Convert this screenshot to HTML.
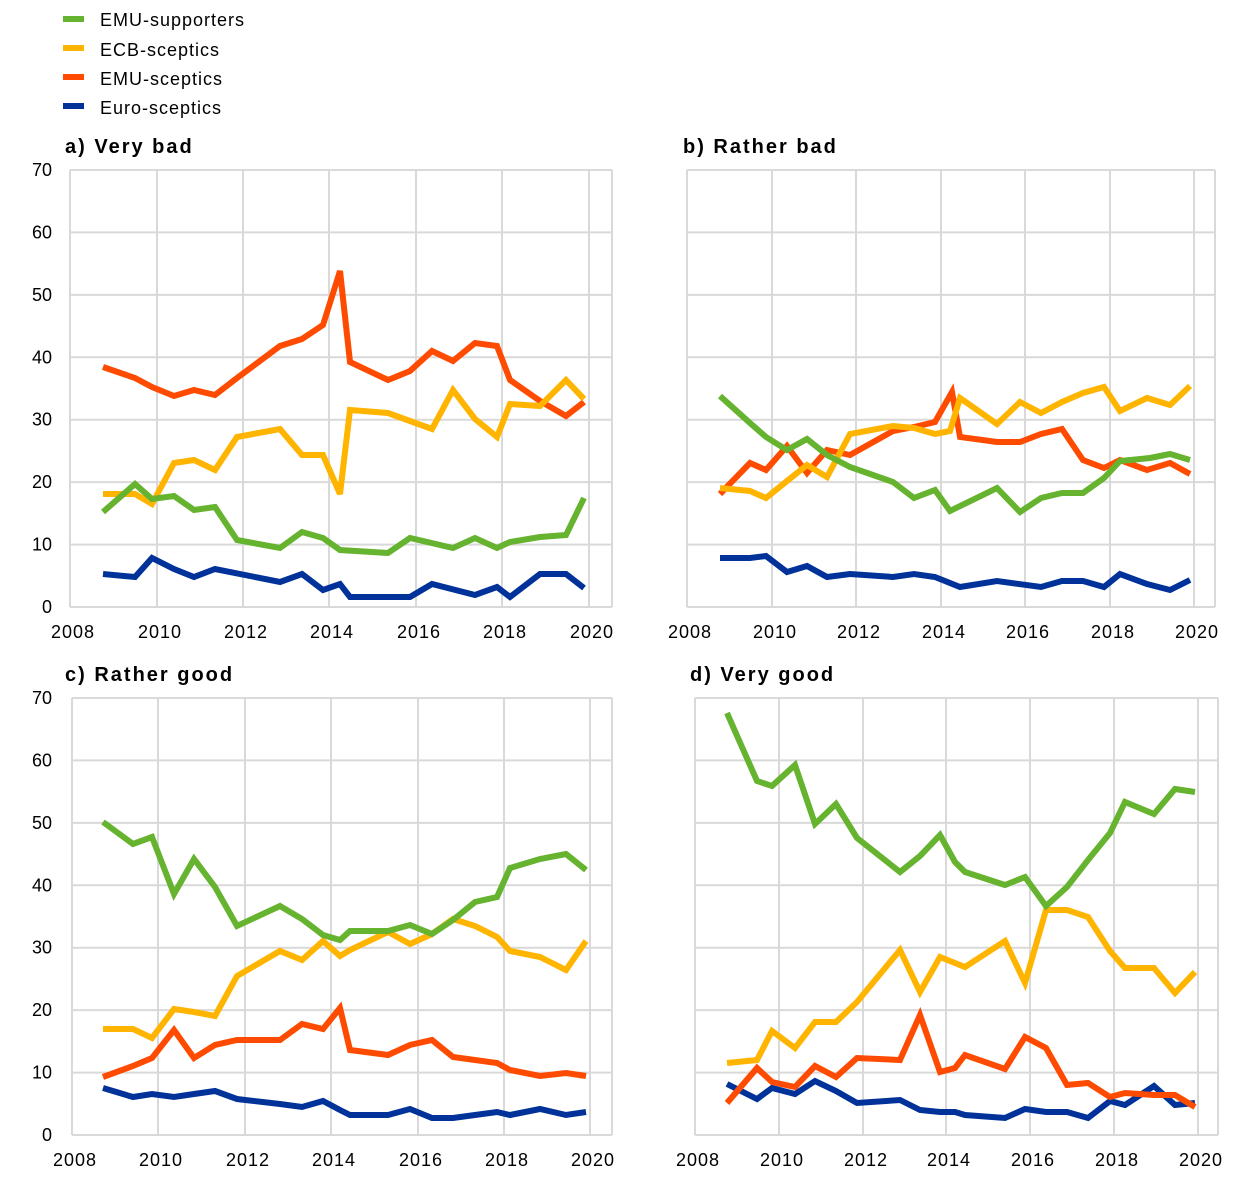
<!DOCTYPE html>
<html><head><meta charset="utf-8"><style>
body{margin:0;background:#fff;width:1240px;height:1176px;overflow:hidden}
text{font-family:"Liberation Sans",Arial,sans-serif;fill:#000}
</style></head><body>
<svg id="s" width="1240" height="1176" xmlns="http://www.w3.org/2000/svg">
<g font-size="18" letter-spacing="1">
<rect x="63" y="16" width="21" height="6" fill="#65b32e"/><text x="100" y="26">EMU-supporters</text>
<rect x="63" y="45" width="21" height="6" fill="#ffb400"/><text x="100" y="56">ECB-sceptics</text>
<rect x="63" y="74" width="21" height="6" fill="#ff4b00"/><text x="100" y="85">EMU-sceptics</text>
<rect x="63" y="103" width="21" height="6" fill="#003299"/><text x="100" y="114">Euro-sceptics</text>
</g>
<g font-size="20" font-weight="bold" letter-spacing="2">
<text x="65" y="153">a) Very bad</text>
<text x="683" y="153">b) Rather bad</text>
<text x="65" y="681">c) Rather good</text>
<text x="690" y="681">d) Very good</text>
</g>
</svg>
<script>
const S=document.getElementById('s'),NS='http://www.w3.org/2000/svg';
function el(t,a,txt){const e=document.createElementNS(NS,t);for(const k in a)e.setAttribute(k,a[k]);if(txt!==undefined)e.textContent=txt;S.appendChild(e);return e;}
function panel(L,R,top,bot,xs,ylab){
 for(let i=0;i<=7;i++){const y=top+(bot-top)*i/7;el('line',{x1:L,x2:R,y1:y,y2:y,stroke:'#d9d9d9','stroke-width':2});
  if(ylab)el('text',{x:52,y:bot-(bot-top)*i/7+6,'text-anchor':'end','font-size':18},String(i*10));}
 xs.forEach((x,i)=>{el('line',{x1:x,x2:x,y1:top,y2:bot,stroke:'#d9d9d9','stroke-width':2});
  el('text',{x:x+3,y:bot+31,'text-anchor':'middle','font-size':18,'letter-spacing':'1'},String(2008+2*i));});
 el('line',{x1:R,x2:R,y1:top,y2:bot,stroke:'#d9d9d9','stroke-width':2});
}
panel(70,612,170,607,[70,157,243,329,416,502,589],true);
panel(687,1215,170,607,[687,772,856,941,1025,1110,1194],false);
panel(72,612,698,1135,[72,158,245,331,418,504,590],true);
panel(695,1218,698,1135,[695,779,863,946,1030,1114,1198],false);
const C=['#65b32e','#ffb400','#ff4b00','#003299'];
const D=[
["103,512 135,484 152,499 174,496 194,510 215,507 237,540 280,548 302,532 323,538 340,550 388,553 410,538 453,548 475,538 497,548 510,542 540,537 566,535 584,498",
"103,494 135,494 152,504 174,463 194,460 215,470 237,437 280,429 302,455 323,455 340,494 350,410 388,413 410,421 432,429 453,390 475,419 497,437 510,404 540,406 566,380 584,399",
"103,367 135,378 152,387 174,396 194,390 215,395 237,378 280,346 302,339 323,325 340,271 350,362 388,380 410,371 432,351 453,361 475,343 497,346 510,380 540,401 566,416 584,402",
"103,574 135,577 152,558 174,569 194,577 215,569 280,582 302,574 323,590 340,584 350,597 410,597 432,584 475,595 497,587 510,597 540,574 566,574 584,588"],
["720,396 750,423 766,437 787,450 807,439 827,455 850,467 893,482 914,498 935,490 950,511 997,488 1020,512 1041,498 1062,493 1083,493 1104,478 1120,461 1150,458 1170,454 1190,460",
"720,488 750,491 766,498 787,481 807,465 827,477 850,434 893,426 914,428 935,434 950,431 960,398 997,424 1020,402 1041,413 1062,402 1083,393 1104,387 1120,411 1147,398 1170,405 1190,386",
"720,494 750,463 766,470 787,446 807,473 827,450 850,455 893,431 914,427 935,422 952,392 960,437 997,442 1020,442 1041,434 1062,429 1083,460 1104,468 1120,460 1147,470 1170,463 1190,474",
"720,558 750,558 766,556 787,572 807,566 827,577 850,574 893,577 914,574 935,577 960,587 997,581 1041,587 1062,581 1083,581 1104,587 1120,574 1147,584 1170,590 1190,580"],
["103,822 133,844 152,837 174,894 194,859 215,887 237,926 280,906 302,919 323,935 340,940 350,931 388,931 410,925 432,934 453,920 475,902 497,897 510,868 540,859 566,854 586,870",
"103,1029 133,1029 152,1038 174,1009 194,1012 215,1016 237,976 280,951 302,960 323,941 340,956 350,950 388,932 410,944 432,934 453,919 475,926 497,937 510,951 540,957 566,970 586,941",
"103,1077 133,1066 152,1058 174,1030 194,1058 215,1045 237,1040 280,1040 302,1024 323,1029 340,1008 350,1050 388,1055 410,1045 432,1040 453,1057 475,1060 497,1063 510,1070 540,1076 566,1073 586,1076",
"103,1088 133,1097 152,1094 174,1097 194,1094 215,1091 237,1099 280,1104 302,1107 323,1101 340,1110 350,1115 388,1115 410,1109 432,1118 453,1118 475,1115 497,1112 510,1115 540,1109 566,1115 586,1112"],
["727,713 757,781 772,786 795,765 815,824 836,804 857,838 900,872 920,856 940,835 955,862 965,872 1005,885 1025,877 1046,906 1067,887 1088,860 1110,833 1125,802 1154,814 1175,789 1195,792",
"727,1063 757,1060 772,1031 795,1048 815,1022 836,1022 857,1002 900,950 920,992 940,957 965,967 1005,941 1025,983 1046,910 1067,910 1088,917 1110,951 1125,968 1154,968 1175,993 1195,972",
"727,1103 757,1068 772,1082 795,1087 815,1066 836,1077 857,1058 900,1060 920,1015 940,1072 955,1068 965,1055 1005,1069 1025,1037 1046,1048 1067,1085 1088,1083 1110,1097 1125,1093 1154,1095 1175,1095 1195,1107",
"727,1084 757,1099 772,1088 795,1094 815,1081 836,1091 857,1103 900,1100 920,1110 940,1112 955,1112 965,1115 1005,1118 1025,1109 1046,1112 1067,1112 1088,1118 1110,1101 1125,1105 1154,1086 1175,1105 1195,1103"]];
D.forEach(p=>{[3,2,1,0].forEach(i=>el('polyline',{points:p[i],fill:'none',stroke:C[i],'stroke-width':6,'stroke-linejoin':'miter','stroke-miterlimit':3}));});
</script>
</body></html>
